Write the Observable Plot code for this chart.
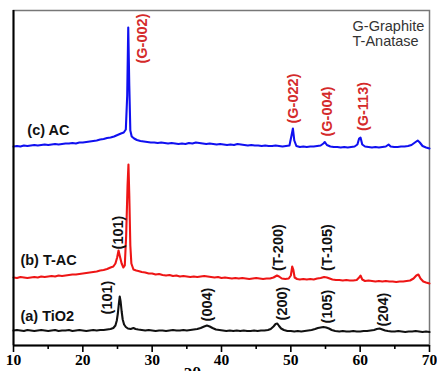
<!DOCTYPE html>
<html>
<head>
<meta charset="utf-8">
<script src="https://cdn.jsdelivr.net/npm/d3@7"></script>
<script src="https://cdn.jsdelivr.net/npm/@observablehq/plot@0.6"></script>
<style>
  html, body { margin: 0; padding: 0; background: #fff; overflow: hidden; }
  #chart svg { display: block; }
</style>
</head>
<body>
<div id="chart"></div>
<script>
// ---- Data: [2θ (deg), intensity (a.u., offset stacked)] ----
const tio2 = [[10,15],[10.5,15.5],[11,15],[11.5,14.5],[12,15.5],[12.5,15],[13,14.5],[13.5,15],[14,15.5],[14.5,15],[15,14.5],[15.5,15],[16,15.5],[16.5,14.5],[17,15],[17.5,15],[18,15.5],[18.5,14.5],[19,15],[19.5,15.5],[20,15],[20.5,14.5],[21,15],[21.5,15.5],[22,15],[22.5,15.5],[23,15.5],[23.5,16],[24,16.5],[24.4,17.5],[24.7,20],[24.9,25],[25.05,32],[25.2,42],[25.32,49],[25.45,44],[25.6,34],[25.75,26],[25.95,21],[26.2,18.5],[26.5,17],[26.9,16.5],[27.3,17.5],[27.6,16.5],[28,16],[28.5,15.5],[29,15],[29.5,15.5],[30,15],[30.5,14.5],[31,15],[31.5,15],[32,14.5],[32.5,15],[33,15.5],[33.5,15],[34,15],[34.5,15.5],[35,15],[35.5,15.5],[36,16],[36.5,16.5],[37,17.5],[37.5,19],[37.9,20],[38.3,19],[38.7,17.5],[39.2,16],[39.7,15.5],[40.2,15],[40.7,14.5],[41.2,15],[41.7,14.5],[42.2,15],[42.7,14.5],[43.2,15],[43.7,14.5],[44.2,14.5],[44.7,15],[45.2,14.5],[45.7,15],[46.2,15],[46.7,15.5],[47.1,16.5],[47.5,19],[47.8,21.5],[48.05,22],[48.3,19.5],[48.6,17],[49,15.5],[49.5,14.5],[50,14.5],[50.5,14],[51,14.5],[51.5,14],[52,14.5],[52.5,15],[53,15.5],[53.5,16.5],[53.9,17.5],[54.3,18],[54.7,18.5],[55.1,18],[55.5,17],[55.9,15.5],[56.4,14.5],[57,14],[57.5,14.5],[58,14],[58.5,14],[59,14.5],[59.5,14],[60,14],[60.5,14.5],[61,14.5],[61.5,15],[62,15.5],[62.4,16.5],[62.8,17],[63.2,16],[63.6,15],[64,14.5],[64.5,14],[65,14],[65.5,14.5],[66,14],[66.5,13.5],[67,14],[67.5,14],[68,14.5],[68.5,14],[69,13.5],[69.5,14],[70,13.5]];

const tac = [[10,68],[10.5,67.5],[11,68.5],[11.5,68],[12,67.5],[12.5,68],[13,68.5],[13.5,68],[14,69],[14.5,68.5],[15,69],[15.5,69.5],[16,69],[16.5,70],[17,69.5],[17.5,70],[18,70.5],[18.5,71],[19,71],[19.5,71.5],[20,72],[20.5,72.5],[21,73],[21.5,73.5],[22,74],[22.5,75],[23,75.5],[23.5,76.5],[24,78],[24.4,79],[24.7,82],[24.95,88],[25.15,95],[25.35,89],[25.6,82],[25.85,78],[26.05,80],[26.25,110],[26.45,160],[26.58,181],[26.7,150],[26.85,100],[27.0,82],[27.3,76],[27.7,75],[28,74.5],[28.5,73.5],[29,73],[29.5,72],[30,72],[30.5,71],[31,71.5],[31.5,70.5],[32,70],[32.5,70.5],[33,69.5],[33.5,70],[34,69],[34.5,69.5],[35,69],[35.5,68.5],[36,69],[36.5,68.5],[37,69],[37.5,69.5],[38,69],[38.5,68.5],[39,68],[39.5,68.5],[40,67.5],[40.5,68],[41,67.5],[41.5,67],[42,67.5],[42.5,67],[43,67.5],[43.5,67],[44,66.5],[44.5,67],[45,67.5],[45.5,67],[46,66.5],[46.5,67],[47,67],[47.5,68],[48,70],[48.3,69],[48.7,67],[49.2,66.5],[49.7,67],[50,70],[50.2,79],[50.35,76],[50.55,68],[50.9,66.5],[51.3,66],[51.8,66.5],[52.3,66],[52.8,66.5],[53.3,66],[53.8,67],[54.3,67.5],[54.8,68.5],[55.2,68],[55.6,67],[56,66],[56.5,65.5],[57,65.5],[57.5,65],[58,65.5],[58.5,65],[59,65],[59.5,65.5],[59.85,68],[60.05,70],[60.3,66],[60.7,64.5],[61.2,65],[61.7,64.5],[62.2,64],[62.7,64.5],[63.2,64],[63.7,64.5],[64.2,64],[64.7,64],[65.2,63.5],[65.7,64],[66.2,64],[66.7,64.5],[67.2,65],[67.7,67],[68.1,70],[68.4,71],[68.7,67],[69.1,64],[69.5,63],[70,62]];

const ac = [[10,199],[10.5,199.5],[11,199],[11.5,200],[12,199.5],[12.5,200],[13,200.5],[13.5,200],[14,200.5],[14.5,201],[15,200.5],[15.5,201],[16,201.5],[16.5,201],[17,201.5],[17.5,202],[18,202],[18.5,202.5],[19,202],[19.5,203],[20,203],[20.5,203.5],[21,204],[21.5,204.5],[22,205],[22.5,206],[23,206.5],[23.5,207.5],[24,208],[24.5,209],[25,210.5],[25.5,212],[25.9,213],[26.2,216],[26.4,250],[26.55,318],[26.7,260],[26.85,215],[27.05,209],[27.4,207],[27.8,205.5],[28.3,204.5],[28.8,204],[29.3,203.5],[29.8,203],[30.3,203],[30.8,202.5],[31.3,203],[31.8,202.5],[32.3,202],[32.8,202.5],[33.3,202],[33.8,201.5],[34.3,202],[34.8,201.5],[35.3,202.5],[35.8,202],[36.3,203],[36.8,202.5],[37.3,202],[37.8,201.5],[38.3,202],[38.8,201.5],[39.3,201],[39.8,201.5],[40.3,201],[40.8,200.5],[41.3,201],[41.8,200.5],[42.3,201.5],[42.8,201],[43.3,200.5],[43.8,200],[44.3,200.5],[44.8,200],[45.3,200],[45.8,199.5],[46.3,200],[46.8,199.5],[47.3,199.5],[47.8,200],[48.3,199.5],[48.8,199],[49.3,199.5],[49.8,200],[50.1,210],[50.3,217],[50.5,205],[50.8,199.5],[51.3,198.5],[51.8,199],[52.3,198.5],[52.8,199],[53.3,199],[53.8,199.5],[54.3,200],[54.7,202],[54.9,203.5],[55.2,200.5],[55.7,199],[56.2,198.5],[56.7,198.5],[57.2,198],[57.7,198.5],[58.2,198],[58.7,198.5],[59.2,199],[59.6,201],[59.85,207],[60.05,208],[60.3,201],[60.7,199],[61.2,198.5],[61.7,198],[62.2,198.5],[62.7,198],[63.2,198.5],[63.7,199],[64.1,201],[64.4,199],[64.9,198.5],[65.4,198.5],[65.9,199],[66.4,199],[66.9,199.5],[67.4,200.5],[67.9,203],[68.3,205],[68.6,203],[69,199.5],[69.5,198],[70,197]];

// Peak labels
const peakText  = ["(G-002)","(G-022)","(G-004)","(G-113)","(101)","(T-200)","(T-105)","(101)","(004)","(200)","(105)","(204)"];
const peakX     = [28.6, 50.4, 55.3, 60.5, 25.1, 48.2, 55.3, 23.6, 38.0, 48.8, 55.3, 63.4];
const peakY     = [307, 247, 234, 239, 113, 98, 98, 48, 41, 42, 39, 36];
const peakColor = ["#d42a2a","#d42a2a","#d42a2a","#d42a2a","#111","#111","#111","#111","#111","#111","#111","#111"];

// Series labels
const seriesText = ["(c) AC", "(b) T-AC", "(a) TiO2"];
const seriesX = [12.0, 11.0, 11.0];
const seriesY = [215, 85, 29];

// Legend text
const legendText = ["G-Graphite", "T-Anatase"];
const legendX = [58.9, 58.9];
const legendY = [319, 304];

const majorTicks = [10, 20, 30, 40, 50, 60, 70];
const minorTicks = [15, 25, 35, 45, 55, 65];

const peaks = peakText.map((t, i) => ({t, x: peakX[i], y: peakY[i], c: peakColor[i]}));
const seriesLabels = seriesText.map((t, i) => ({t, x: seriesX[i], y: seriesY[i]}));
const legend = legendText.map((t, i) => ({t, x: legendX[i], y: legendY[i]}));

const chart = Plot.plot({
  width: 437,
  height: 371,
  marginLeft: 13,
  marginRight: 8,
  marginTop: 10,
  marginBottom: 26,
  style: {background: "#fff", overflow: "visible"},
  x: {domain: [10, 70]},
  y: {domain: [0, 335], axis: null},
  marks: [
    Plot.frame({stroke: "#777", strokeWidth: 1.5}),
    Plot.line(ac, {x: d => d[0], y: d => d[1], stroke: "#1010f0", strokeWidth: 2.1}),
    Plot.line(tac, {x: d => d[0], y: d => d[1], stroke: "#ee1515", strokeWidth: 2.1}),
    Plot.line(tio2, {x: d => d[0], y: d => d[1], stroke: "#111", strokeWidth: 2.1}),
    Plot.text(peaks, {x: "x", y: "y", text: "t", fill: "c", rotate: -90, fontWeight: "bold", fontSize: 14.5, fontFamily: "Liberation Sans, Arial, sans-serif"}),
    Plot.text(seriesLabels, {x: "x", y: "y", text: "t", fill: "#111", textAnchor: "start", fontWeight: "bold", fontSize: 14.5, fontFamily: "Liberation Sans, Arial, sans-serif"}),
    Plot.text(legend, {x: "x", y: "y", text: "t", fill: "#333", textAnchor: "start", fontSize: 14.5, fontFamily: "Liberation Sans, Arial, sans-serif"}),
    Plot.ruleX([10], {stroke: "#000", strokeWidth: 2}),
    Plot.ruleY([0], {stroke: "#000", strokeWidth: 2}),
    Plot.axisX({ticks: majorTicks, tickSize: 7, tickPadding: 1, tickFormat: d => String(d), stroke: "#000", strokeWidth: 1.6, fill: "#000", fontSize: 15.5, fontWeight: "bold", fontFamily: "Liberation Serif, Times New Roman, serif", label: null}),
    Plot.axisX({ticks: minorTicks, tickSize: 4, stroke: "#000", strokeWidth: 1.6, text: null, label: null}),
    Plot.text(["2θ"], {x: 35.8, frameAnchor: "bottom", dy: 21, lineAnchor: "top", fontSize: 17, fontWeight: "bold", fill: "#000", fontFamily: "Liberation Serif, Times New Roman, serif"})
  ]
});
document.getElementById("chart").appendChild(chart);
</script>
</body>
</html>
